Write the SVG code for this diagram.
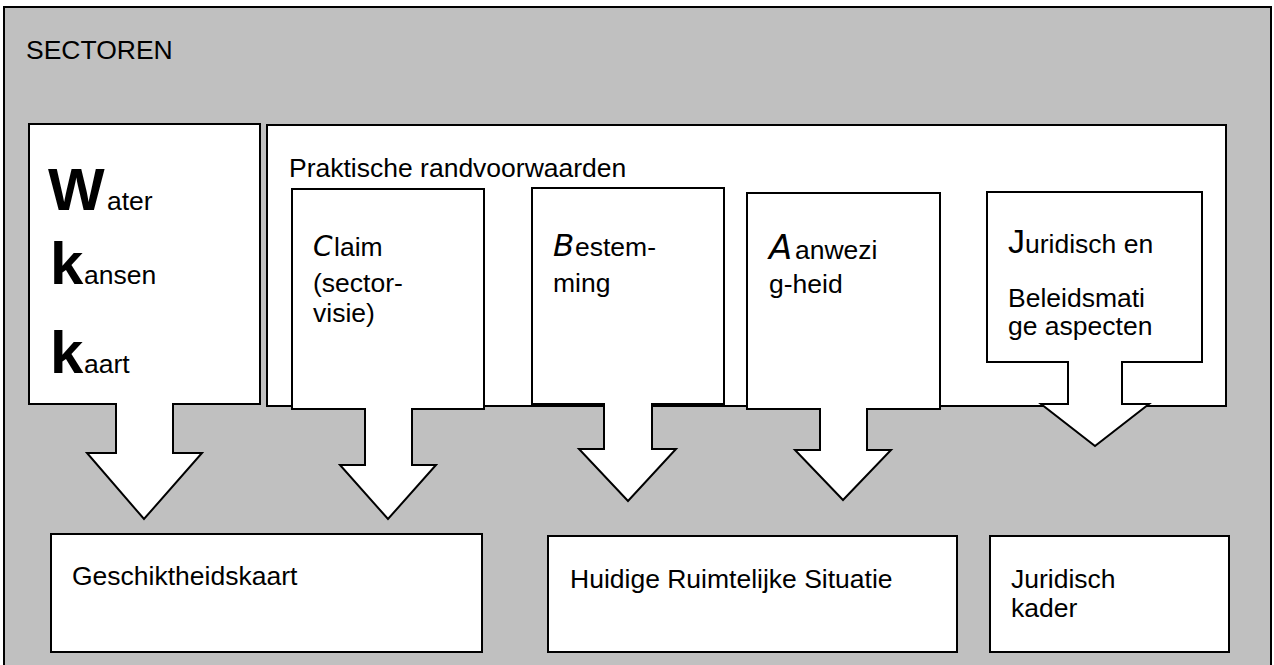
<svg xmlns="http://www.w3.org/2000/svg" width="1274" height="665" viewBox="0 0 1274 665">
<style>
  .box { fill: #ffffff; stroke: #000000; stroke-width: 2; }
  .arrow { fill: #ffffff; stroke: #000000; stroke-width: 2; stroke-linejoin: miter; }
  text { font-family: "Liberation Sans", Arial, sans-serif; font-size: 26.5px; fill: #000000; }
  .big { font-weight: bold; font-size: 60px; }
  .ini { font-family: "DejaVu Sans", sans-serif; font-style: italic; font-size: 28px; }
  .iniB { font-size: 31px; }
  .iniA { font-size: 34px; }
  .iniJ { font-size: 34px; }
</style>
<g id="sectoren">
  <rect x="4" y="7" width="1267" height="680" fill="#c0c0c0" stroke="#000000" stroke-width="2"/>
  <text x="26" y="59">SECTOREN</text>
</g>
<g id="praktische-randvoorwaarden">
  <rect class="box" x="267" y="125" width="959" height="281"/>
  <text x="289" y="177">Praktische randvoorwaarden</text>
</g>
<g id="wkk">
  <rect class="box" x="29" y="124" width="231" height="280"/>
  <text><tspan class="big" x="48" y="210">W</tspan><tspan x="107" y="210">ater</tspan></text>
  <text><tspan class="big" x="50" y="284">k</tspan><tspan x="84" y="284">ansen</tspan></text>
  <text><tspan class="big" x="50" y="373">k</tspan><tspan x="84" y="373">aart</tspan></text>
</g>
<g id="claim">
  <rect class="box" x="292" y="189" width="192" height="220"/>
  <text><tspan class="ini" x="313" y="256">C</tspan><tspan x="334" y="256">laim</tspan></text>
  <text x="313" y="292">(sector-</text>
  <text x="313" y="322">visie)</text>
</g>
<g id="bestemming">
  <rect class="box" x="532" y="188" width="192" height="216"/>
  <text><tspan class="ini iniB" x="553" y="256">B</tspan><tspan x="575" y="256">estem-</tspan></text>
  <text x="553" y="292">ming</text>
</g>
<g id="aanwezigheid">
  <rect class="box" x="747" y="193" width="193" height="216"/>
  <text><tspan class="ini iniA" x="769" y="259">A</tspan><tspan x="795" y="259">anwezi</tspan></text>
  <text x="769" y="293">g-heid</text>
</g>
<g id="juridisch-beleid">
  <rect class="box" x="987" y="192" width="215" height="170"/>
  <text><tspan class="iniJ" x="1008" y="253">J</tspan><tspan x="1025" y="253">uridisch en</tspan></text>
  <text x="1008" y="307">Beleidsmati</text>
  <text x="1008" y="335">ge aspecten</text>
</g>
<g id="connectors">
  <path class="arrow" d="M116,403 L116,453 L87,453 L144,519 L202,453 L173,453 L173,403"/>
  <path class="arrow" d="M365,408 L365,465 L340,465 L388,519 L436,465 L412,465 L412,408"/>
  <path class="arrow" d="M604,403 L604,449 L579,449 L628,501 L676,449 L652,449 L652,403"/>
  <path class="arrow" d="M820,408 L820,450 L795,450 L843,500 L891,450 L867,450 L867,408"/>
  <path class="arrow" d="M1068,361 L1068,404 L1041,404 L1095,446 L1149,404 L1122,404 L1122,361"/>
</g>
<g id="geschiktheidskaart">
  <rect class="box" x="51" y="534" width="431" height="118"/>
  <text x="72" y="585">Geschiktheidskaart</text>
</g>
<g id="huidige-ruimtelijke-situatie">
  <rect class="box" x="548" y="536" width="409" height="116"/>
  <text x="570" y="588">Huidige Ruimtelijke Situatie</text>
</g>
<g id="juridisch-kader">
  <rect class="box" x="990" y="536" width="239" height="116"/>
  <text x="1011" y="588">Juridisch</text>
  <text x="1011" y="617">kader</text>
</g>
</svg>
